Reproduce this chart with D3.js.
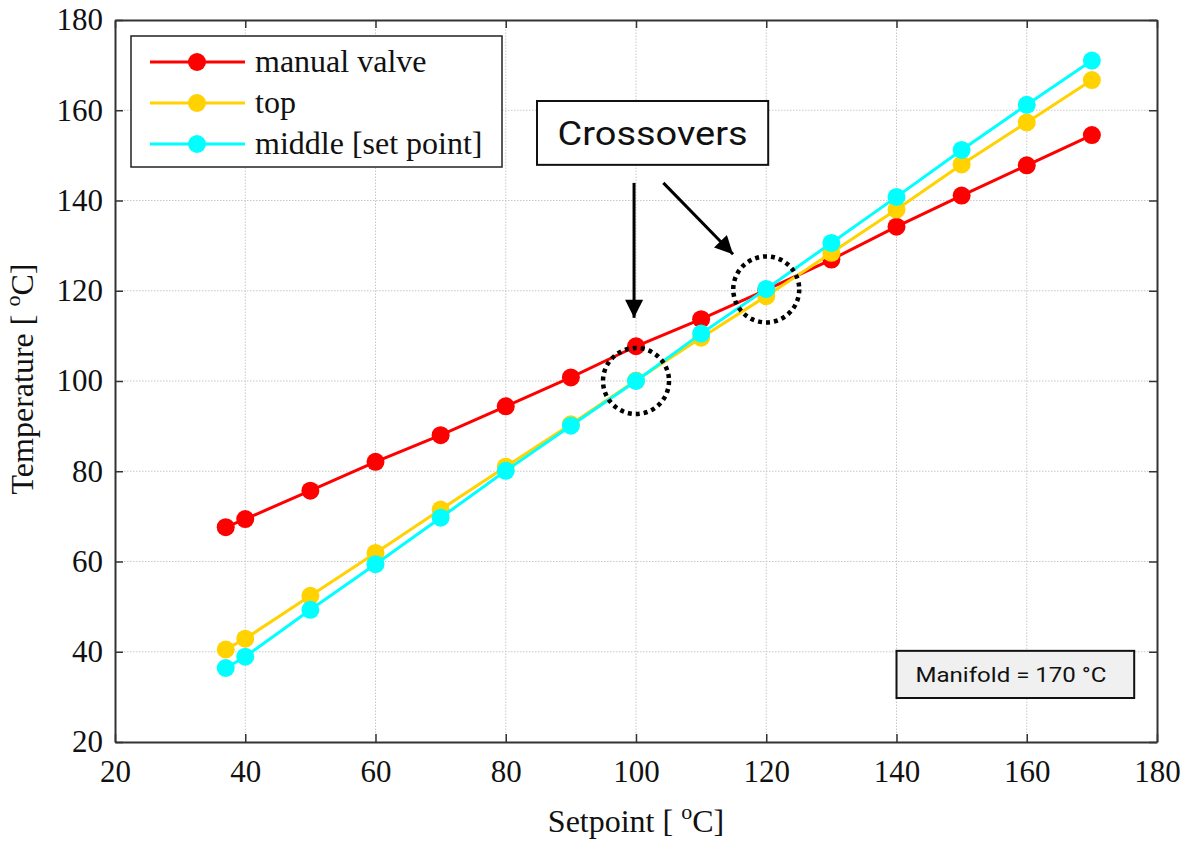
<!DOCTYPE html>
<html>
<head>
<meta charset="utf-8">
<script src="https://cdn.jsdelivr.net/npm/d3@7"></script>
<style>
  html, body { margin: 0; padding: 0; background: #fff; }
  svg { display: block; }
</style>
</head>
<body>
<div id="chart"></div>
<script>
// data
const setpoints = [37, 40, 50, 60, 70, 80, 90, 100, 110, 120, 130, 140, 150, 160, 170];
const manualValve = [67.6, 69.4, 75.7, 82.1, 88.0, 94.4, 100.8, 107.7, 113.7, 120.2, 126.9, 134.2, 141.1, 147.8, 154.5];
const topSensor = [40.5, 42.9, 52.4, 61.9, 71.5, 81.0, 90.4, 100.1, 109.6, 118.8, 128.4, 138.0, 148.0, 157.3, 166.7];
const middleSensor = [36.4, 38.9, 49.3, 59.4, 69.7, 80.1, 90.1, 100.0, 110.5, 120.4, 130.6, 140.8, 151.2, 161.2, 171.0];
const seriesNames = ["manual valve", "top", "middle [set point]"];
const seriesColors = ["#ff0000", "#ffd200", "#00ffff"];
const xTicks = [20, 40, 60, 80, 100, 120, 140, 160, 180];
const yTicks = [20, 40, 60, 80, 100, 120, 140, 160, 180];
const crossovers = [[100, 100], [120, 120.3]];

const width = 1186, height = 841;
const margin = { top: 20, right: 29, bottom: 99, left: 115 };

const svg = d3.select("#chart").append("svg")
  .attr("width", width)
  .attr("height", height);

const x = d3.scaleLinear().domain([20, 180]).range([margin.left, width - margin.right]);
const y = d3.scaleLinear().domain([20, 180]).range([height - margin.bottom, margin.top]);

const serif = "'Liberation Serif', 'Times New Roman', serif";
const sans = "Roboto, Arial, sans-serif";

// grid
const grid = svg.append("g").attr("class", "grid");
grid.selectAll(".gx").data(xTicks.slice(1, -1)).join("line")
  .attr("x1", d => x(d)).attr("x2", d => x(d))
  .attr("y1", y(20)).attr("y2", y(180))
  .attr("stroke", "#c8c8c8").attr("stroke-width", 1).attr("stroke-dasharray", "1.5,1.5");
grid.selectAll(".gy").data(yTicks.slice(1, -1)).join("line")
  .attr("y1", d => y(d)).attr("y2", d => y(d))
  .attr("x1", x(20)).attr("x2", x(180))
  .attr("stroke", "#c8c8c8").attr("stroke-width", 1).attr("stroke-dasharray", "1.5,1.5");

// axes (ticks pointing inward, box on all sides)
function styleAxis(g) {
  g.select(".domain").attr("stroke", "#333").attr("stroke-width", 2);
  g.selectAll(".tick line").attr("stroke", "#333").attr("stroke-width", 1.5);
}
const tickLen = 8;
svg.append("g")
  .attr("transform", `translate(0,${y(20)})`)
  .call(d3.axisBottom(x).tickValues(xTicks).tickSizeInner(-tickLen).tickSizeOuter(0).tickPadding(18))
  .call(styleAxis)
  .call(g => g.selectAll("text").attr("font-family", serif).attr("font-size", 31).attr("fill", "#111"));
svg.append("g")
  .attr("transform", `translate(0,${y(180)})`)
  .call(d3.axisTop(x).tickValues(xTicks).tickSizeInner(-tickLen).tickSizeOuter(0).tickFormat(""))
  .call(styleAxis);
svg.append("g")
  .attr("transform", `translate(${x(20)},0)`)
  .call(d3.axisLeft(y).tickValues(yTicks).tickSizeInner(-tickLen).tickSizeOuter(0).tickPadding(12))
  .call(styleAxis)
  .call(g => g.selectAll("text").attr("font-family", serif).attr("font-size", 31).attr("fill", "#111"));
svg.append("g")
  .attr("transform", `translate(${x(180)},0)`)
  .call(d3.axisRight(y).tickValues(yTicks).tickSizeInner(-tickLen).tickSizeOuter(0).tickFormat(""))
  .call(styleAxis);

// axis titles
const xt = svg.append("text")
  .attr("x", (x(20) + x(180)) / 2)
  .attr("y", 832)
  .attr("text-anchor", "middle")
  .attr("font-family", serif).attr("font-size", 32).attr("fill", "#111");
xt.append("tspan").text("Setpoint [ ");
xt.append("tspan").attr("font-size", 22).attr("dy", -13).text("o");
xt.append("tspan").attr("dy", 13).text("C]");

const yt = svg.append("text")
  .attr("transform", `translate(33,${(y(20) + y(180)) / 2 - 2}) rotate(-90)`)
  .attr("text-anchor", "middle")
  .attr("font-family", serif).attr("font-size", 32).attr("fill", "#111");
yt.append("tspan").text("Temperature [ ");
yt.append("tspan").attr("font-size", 22).attr("dy", -13).text("o");
yt.append("tspan").attr("dy", 13).text("C]");

// series
const allSeries = [manualValve, topSensor, middleSensor];
const line = d3.line().x((d, i) => x(setpoints[i])).y(d => y(d));
allSeries.forEach((vals, s) => {
  const g = svg.append("g").attr("class", "series");
  g.append("path").datum(vals)
    .attr("d", line)
    .attr("fill", "none")
    .attr("stroke", seriesColors[s])
    .attr("stroke-width", 3);
  g.selectAll("circle").data(vals).join("circle")
    .attr("cx", (d, i) => x(setpoints[i]))
    .attr("cy", d => y(d))
    .attr("r", 9)
    .attr("fill", seriesColors[s]);
});

// crossover circles
svg.selectAll(".cross").data(crossovers).join("circle")
  .attr("class", "cross")
  .attr("cx", d => x(d[0]))
  .attr("cy", d => y(d[1]))
  .attr("r", 33)
  .attr("fill", "none")
  .attr("stroke", "#000")
  .attr("stroke-width", 4.5)
  .attr("stroke-dasharray", "4,4");

// arrows
const defs = svg.append("defs");
defs.append("marker")
  .attr("id", "arrow")
  .attr("viewBox", "0 0 10 10")
  .attr("refX", 10).attr("refY", 5)
  .attr("markerWidth", 7).attr("markerHeight", 6)
  .attr("markerUnits", "strokeWidth")
  .attr("orient", "auto")
  .append("path").attr("d", "M0,0 L10,5 L0,10 Z").attr("fill", "#000");

const arrows = [
  { from: [99.7, 143.9], to: [99.7, 114.0] },
  { from: [104.2, 143.9], to: [114.9, 128.1] }
];
svg.selectAll(".arrow").data(arrows).join("line")
  .attr("class", "arrow")
  .attr("x1", d => x(d.from[0])).attr("y1", d => y(d.from[1]))
  .attr("x2", d => x(d.to[0])).attr("y2", d => y(d.to[1]))
  .attr("stroke", "#000").attr("stroke-width", 3)
  .attr("marker-end", "url(#arrow)");

// Crossovers label box
const cb = { x0: 84.8, x1: 120.3, y0: 162.05, y1: 147.9 };
svg.append("rect")
  .attr("x", x(cb.x0)).attr("y", y(cb.y0))
  .attr("width", x(cb.x1) - x(cb.x0)).attr("height", y(cb.y1) - y(cb.y0))
  .attr("fill", "#fff").attr("stroke", "#111").attr("stroke-width", 2);
svg.append("text")
  .attr("x", (x(cb.x0) + x(cb.x1)) / 2)
  .attr("y", y(cb.y0) + 44)
  .attr("text-anchor", "middle")
  .attr("font-family", sans).attr("font-size", 33).attr("fill", "#111")
  .attr("textLength", 190).attr("lengthAdjust", "spacingAndGlyphs")
  .text("Crossovers");

// Manifold box
const mb = { x0: 140.0, x1: 176.5, y0: 40.2, y1: 29.75 };
svg.append("rect")
  .attr("x", x(mb.x0)).attr("y", y(mb.y0))
  .attr("width", x(mb.x1) - x(mb.x0)).attr("height", y(mb.y1) - y(mb.y0))
  .attr("fill", "#f0f0f0").attr("stroke", "#111").attr("stroke-width", 2);
svg.append("text")
  .attr("x", x(mb.x0) + 19)
  .attr("y", y(mb.y0) + 31)
  .attr("font-family", sans).attr("font-size", 21).attr("fill", "#111")
  .attr("textLength", 191).attr("lengthAdjust", "spacingAndGlyphs")
  .text("Manifold = 170 °C");

// legend
const legend = svg.append("g").attr("transform", "translate(131,36)");
legend.append("rect")
  .attr("width", 371).attr("height", 131)
  .attr("fill", "#fff").attr("stroke", "#222").attr("stroke-width", 1.5);
seriesNames.forEach((name, i) => {
  const row = legend.append("g").attr("transform", `translate(0,${26 + i * 41})`);
  row.append("line").attr("x1", 19).attr("x2", 114)
    .attr("stroke", seriesColors[i]).attr("stroke-width", 3);
  row.append("circle").attr("cx", 66).attr("r", 9).attr("fill", seriesColors[i]);
  row.append("text").attr("x", 124).attr("y", 10)
    .attr("font-family", serif).attr("font-size", 32).attr("fill", "#111")
    .text(name);
});
</script>
</body>
</html>
